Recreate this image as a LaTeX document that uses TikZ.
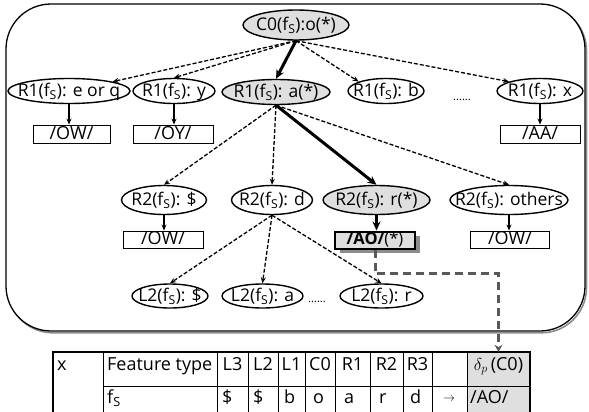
\documentclass[tikz,border=0pt]{standalone}
\usepackage{fontspec}
\setmainfont{Open Sans}
\usetikzlibrary{arrows.meta,shapes.geometric,shadows,calc}
\newcommand\zw[1]{\makebox[0pt]{\raisebox{-0.3em}[0pt][0pt]{#1}}}
\newcommand\myfs{f\textsubscript{S}}
\tikzset{
  ell/.style={ellipse, draw, line width=1.4pt, fill=white, inner sep=0pt, minimum height=25pt,
              font=\fontsize{17.5}{18}\selectfont},
  sel/.style={ell, fill=gray!25},
  boxn/.style={rectangle, draw, line width=0.9pt, fill=white, inner sep=0pt, minimum height=18pt,
              font=\fontsize{18}{19}\selectfont},
  dep/.style={line width=1.3pt, dash pattern=on 4pt off 2pt, -{Stealth[length=6pt,width=5pt]}},
  bld/.style={line width=3pt, -{Stealth[length=9pt,width=8pt]}},
  thn/.style={line width=1.2pt, -{Stealth[length=6pt,width=5pt]}},
  gconn/.style={draw=black!65, line width=3pt, dash pattern=on 8pt off 5pt,
              -{Stealth[length=7pt,width=8pt,fill=black!65]}},
  tl/.style={line width=0.9pt},
  tt/.style={anchor=base, inner sep=0pt, font=\fontsize{18}{19}\selectfont},
  ttw/.style={tt, anchor=base west},
  dots/.style={anchor=base, inner sep=0pt, font=\fontsize{11}{12}\selectfont},
}
\begin{document}
\begin{tikzpicture}[x=1pt,y=-1pt]
\useasboundingbox (0,0) rectangle (589,412);
\clip (0,0) rectangle (589,412);

% outer frame with soft shadow
\draw[black!45, line width=1.6pt, rounded corners=45pt] (7.8,5.8) rectangle (586.5,332.8);
\fill[white, rounded corners=45pt] (6,4) rectangle (585,331);
\draw[line width=1.3pt, rounded corners=45pt] (6,4) rectangle (585,331);

% tree nodes
\node[sel, minimum width=106pt, minimum height=30pt] (C0) at (296,25) {\zw{C0(\myfs):o(*)}};

\node[ell, minimum width=122pt] (R1eq) at (69,91) {\zw{R1(\myfs): e or q}};
\node[ell, minimum width=82pt]  (R1y)  at (174,91) {\zw{R1(\myfs): y}};
\node[sel, minimum width=108pt] (R1a)  at (276,92) {\zw{R1(\myfs): a(*)}};
\node[ell, minimum width=76pt]  (R1b)  at (386,91) {\zw{R1(\myfs): b}};
\node[dots] (d1) at (462,100) {......};
\node[ell, minimum width=86pt]  (R1x)  at (540,91) {\zw{R1(\myfs): x}};

\node[boxn, minimum width=77pt] (OW1) at (71.5,134) {\zw{/OW/}};
\node[boxn, minimum width=80pt] (OY)  at (173,134) {\zw{/OY/}};
\node[boxn, minimum width=80pt] (AA)  at (540,134) {\zw{/AA/}};

\node[ell, minimum width=85pt,  minimum height=29pt] (R2s) at (164,200) {\zw{R2(\myfs): \$}};
\node[ell, minimum width=81pt,  minimum height=29pt] (R2d) at (272,200) {\zw{R2(\myfs): d}};
\node[sel, minimum width=107pt, minimum height=29pt] (R2r) at (376.5,200) {\zw{R2(\myfs): r(*)}};
\node[ell, minimum width=118pt, minimum height=29pt] (R2o) at (509,200) {\zw{R2(\myfs): others}};

\node[boxn, minimum width=80pt, minimum height=17pt] (OW2) at (163,239.5) {\zw{/OW/}};
\node[boxn, minimum width=80pt, minimum height=17pt, fill=gray!25, line width=2pt,
      font=\fontsize{16.5}{17}\selectfont,
      drop shadow={shadow xshift=4.5pt, shadow yshift=-4.5pt, fill=black!45, opacity=1}]
      (AO) at (375,240) {\zw{\textbf{/AO/}(*)}};
\node[boxn, minimum width=79pt, minimum height=17pt] (OW3) at (510,239.5) {\zw{/OW/}};

\node[ell, minimum width=76pt, minimum height=24pt] (L2s) at (170,296) {\zw{L2(\myfs): \$}};
\node[ell, minimum width=81pt, minimum height=24pt] (L2a) at (262.5,296) {\zw{L2(\myfs): a}};
\node[dots] (d2) at (317,302) {......};
\node[ell, minimum width=83pt, minimum height=24pt] (L2r) at (381.5,296) {\zw{L2(\myfs): r}};

% connectors
\draw[dep] (C0.south) -- (R1eq.north east);
\draw[dep] (C0.south) -- (R1y.north);
\draw[bld] (C0.south) -- (R1a.north);
\draw[dep] (C0.south) -- (R1b.north west);
\draw[dep] (C0.south) -- (R1x.north west);

\draw[thn] (R1eq.south) -- (R1eq.south |- OW1.north);
\draw[thn] (R1y.south) -- (R1y.south |- OY.north);
\draw[thn] (R1x.south) -- (R1x.south |- AA.north);

\draw[dep] (R1a.south) -- (R2s.north);
\draw[dep] (R1a.south) -- (R2d.north);
\draw[bld] (R1a.south) -- (R2r.north);
\draw[dep] (R1a.south) -- (R2o.north);

\draw[thn] (R2s.south) -- (R2s.south |- OW2.north);
\draw[bld] (R2r.south) -- (R2r.south |- AO.north);
\draw[thn] (R2o.south) -- (R2o.south |- OW3.north);

\draw[dep] (R2d.south) -- (L2s.north);
\draw[dep] (R2d.south) -- (L2a.north);
\draw[dep] (R2d.south) -- (L2r.north);

% table
\fill[gray!25] (467,352) rectangle (530,420);
\foreach \cx in {103,217,248,278,305,335,370,403,432,467}
  \draw[tl] (\cx,352) -- (\cx,420);
\draw[tl] (103,386) -- (530,386);
\draw[line width=1.6pt] (53,420) -- (53,352) -- (530,352) -- (530,420);

\node[minimum width=63pt, minimum height=34pt, inner sep=0pt] (dh) at (498.5,369) {};
\node[tt] (tdh) at (498.5,370) {$\delta_p$\,(C0)};

\node[ttw] (tx)  at (57,370) {x};
\node[ttw] (tft) at (107,370) {Feature type};
\node[tt] (tL3) at (232.5,370) {L3};
\node[tt] (tL2) at (263,370) {L2};
\node[tt] (tL1) at (291.5,370) {L1};
\node[tt] (tC0) at (320,370) {C0};
\node[tt] (tR1) at (352.5,370) {R1};
\node[tt] (tR2) at (386.5,370) {R2};
\node[tt] (tR3) at (417.5,370) {R3};

\node[ttw] (vfs) at (107,403) {\myfs};
\node[ttw] (v1) at (222,403) {\$};
\node[ttw] (v2) at (253,403) {\$};
\node[ttw] (v3) at (284,403) {b};
\node[ttw] (v4) at (313,403) {o};
\node[ttw] (v5) at (344,403) {a};
\node[ttw] (v6) at (379,403) {r};
\node[ttw] (v7) at (410,403) {d};
\node[tt] (v8) at (449,401) {\fontsize{12}{12}\selectfont$\rightarrow$};
\node[ttw] (v9) at (470,403) {/AO/};

% dashed link to table
\draw[gconn] (AO.south) -- ++(0,24) -| (dh.north);
\end{tikzpicture}
\end{document}
